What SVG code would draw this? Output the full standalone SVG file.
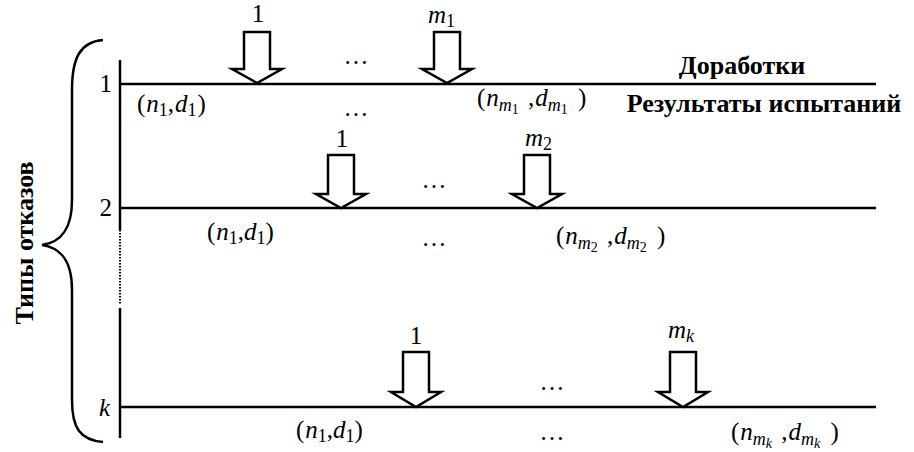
<svg xmlns="http://www.w3.org/2000/svg" width="914" height="452" viewBox="0 0 914 452">
<style>
.ln{stroke:#000;stroke-width:2.5;fill:none}
.ar{stroke:#000;stroke-width:2.5;fill:#fff;stroke-linejoin:miter}
.t{font-family:"Liberation Serif","Times New Roman",serif;font-size:25px;fill:#000}
.i{font-style:italic}
.b{font-weight:bold}
.s{font-size:18px}
.ss{font-size:14px}
</style>
<rect width="914" height="452" fill="#fff"/>
<g id="brace">
<path class="ln" d="M103,40 C80,42 72,58 72,90 L72,200 C72,228 62,242 42,245 C62,248 72,262 72,290 L72,400 C72,428 80,440 103,442"/>
<text class="t b" transform="translate(33,243) rotate(-90)" text-anchor="middle" style="font-size:26px">Типы отказов</text>
</g>
<g id="axis">
<line class="ln" x1="120" y1="60" x2="120" y2="230"/>
<line x1="120" y1="230" x2="120" y2="304" stroke="#000" stroke-width="2" stroke-dasharray="1.5,1.5"/>
<line class="ln" x1="120" y1="308" x2="120" y2="438"/>
</g>
<g id="connectors">
<line class="ln" x1="120" y1="84" x2="876" y2="84"/>
<line class="ln" x1="120" y1="208" x2="876" y2="208"/>
<line class="ln" x1="120" y1="407" x2="876" y2="407"/>
</g>
<g id="titles">
<text class="t b" x="742" y="74" text-anchor="middle" style="font-size:26px">Доработки</text>
<text class="t b" x="764" y="112" text-anchor="middle" style="font-size:26px">Результаты испытаний</text>
</g>
<g id="row1">
<text class="t" x="112" y="92" text-anchor="end">1</text>
<path class="ar" d="M244,32 H270 V69 H282 L257,83 L232,69 H244 Z"/>
<path class="ar" d="M434,32 H460 V69 H472 L447,83 L422,69 H434 Z"/>
<text class="t" x="258" y="22" text-anchor="middle">1</text>
<text class="t" x="428" y="23"><tspan class="i">m</tspan><tspan class="s" dy="4">1</tspan></text>
<text class="t" x="356" y="64" text-anchor="middle">…</text>
<text class="t" x="356" y="116" text-anchor="middle">…</text>
<text class="t" x="137" y="112">(<tspan class="i" dx="1">n</tspan><tspan class="s" dy="4">1</tspan><tspan dy="-4">,</tspan><tspan class="i" dx="1">d</tspan><tspan class="s" dy="4">1</tspan><tspan dy="-4" dx="1">)</tspan></text>
<text class="t" x="477" y="106">(<tspan class="i" dx="1">n</tspan><tspan class="s i" dy="5">m</tspan><tspan class="ss" dy="3">1</tspan><tspan dy="-8" dx="3"> ,</tspan><tspan class="i" dx="1">d</tspan><tspan class="s i" dy="5">m</tspan><tspan class="ss" dy="3">1</tspan><tspan dy="-8" dx="4"> )</tspan></text>
</g>
<g id="row2">
<text class="t" x="112" y="216" text-anchor="end">2</text>
<path class="ar" d="M328,155 H354 V194 H366 L341,208 L316,194 H328 Z"/>
<path class="ar" d="M524,155 H550 V194 H562 L537,208 L512,194 H524 Z"/>
<text class="t" x="342" y="147" text-anchor="middle">1</text>
<text class="t" x="525" y="146"><tspan class="i">m</tspan><tspan class="s" dy="4">2</tspan></text>
<text class="t" x="434" y="188" text-anchor="middle">…</text>
<text class="t" x="434" y="246" text-anchor="middle">…</text>
<text class="t" x="207" y="240">(<tspan class="i" dx="1">n</tspan><tspan class="s" dy="4">1</tspan><tspan dy="-4">,</tspan><tspan class="i">d</tspan><tspan class="s" dy="4">1</tspan><tspan dy="-4">)</tspan></text>
<text class="t" x="556" y="244">(<tspan class="i" dx="1">n</tspan><tspan class="s i" dy="5">m</tspan><tspan class="ss" dy="3">2</tspan><tspan dy="-8" dx="3"> ,</tspan><tspan class="i" dx="1">d</tspan><tspan class="s i" dy="5">m</tspan><tspan class="ss" dy="3">2</tspan><tspan dy="-8" dx="4"> )</tspan></text>
</g>
<g id="rowk">
<text class="t i" x="110" y="416" text-anchor="end">k</text>
<path class="ar" d="M403,352 H429 V392 H441 L416,407 L391,392 H403 Z"/>
<path class="ar" d="M670,352 H696 V392 H708 L683,407 L658,392 H670 Z"/>
<text class="t" x="416" y="344" text-anchor="middle">1</text>
<text class="t" x="668" y="338"><tspan class="i">m</tspan><tspan class="s i" dy="4">k</tspan></text>
<text class="t" x="552" y="390" text-anchor="middle">…</text>
<text class="t" x="552" y="440" text-anchor="middle">…</text>
<text class="t" x="296" y="438">(<tspan class="i" dx="1">n</tspan><tspan class="s" dy="4">1</tspan><tspan dy="-4">,</tspan><tspan class="i">d</tspan><tspan class="s" dy="4">1</tspan><tspan dy="-4">)</tspan></text>
<text class="t" x="731" y="440">(<tspan class="i" dx="1">n</tspan><tspan class="s i" dy="5">m</tspan><tspan class="ss i" dy="3">k</tspan><tspan dy="-8" dx="3"> ,</tspan><tspan class="i" dx="1">d</tspan><tspan class="s i" dy="5">m</tspan><tspan class="ss i" dy="3">k</tspan><tspan dy="-8" dx="4"> )</tspan></text>
</g>
</svg>
